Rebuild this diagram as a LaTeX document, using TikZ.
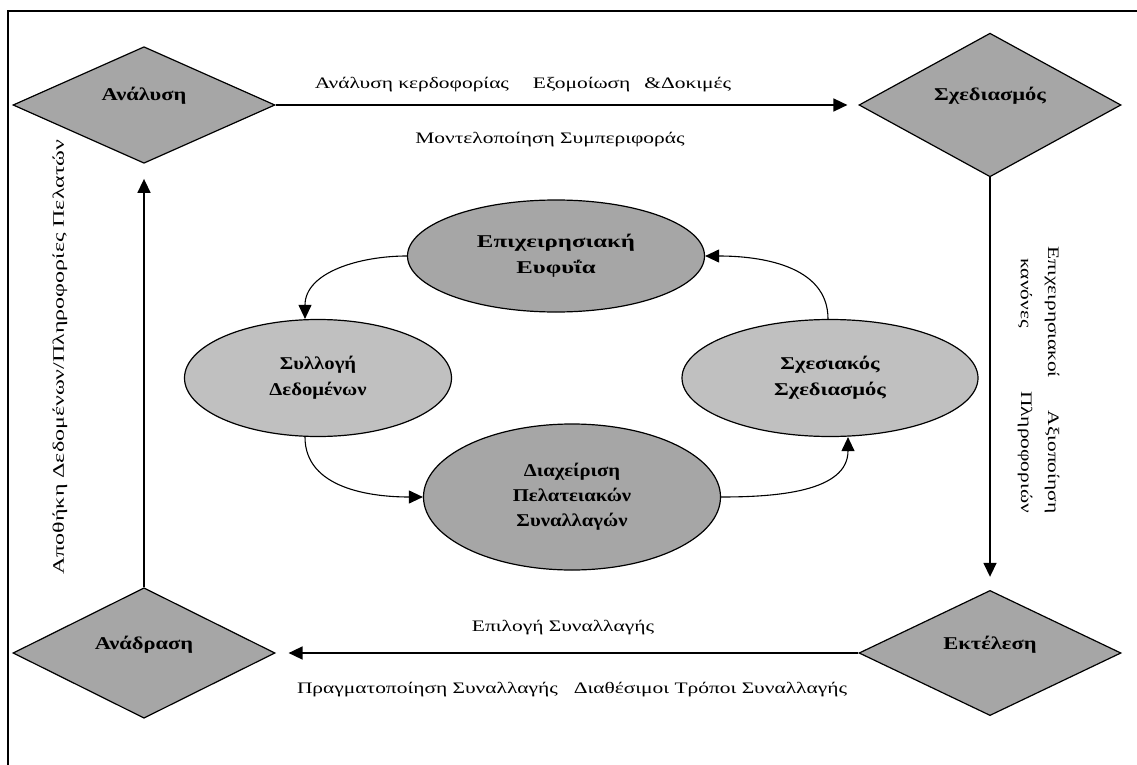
\documentclass[tikz,border=0pt]{standalone}
\usepackage{fontspec}
\setmainfont{Liberation Serif}
\newfontfamily\labfont[FakeStretch=1.34]{Liberation Serif}
\newfontfamily\vertfont[FakeStretch=1.5]{Liberation Serif}
\newfontfamily\bxa[FakeStretch=1.38]{Liberation Serif}
\newfontfamily\bxb[FakeStretch=1.15]{Liberation Serif}
\newfontfamily\bxc[FakeStretch=1.25]{Liberation Serif}
\usetikzlibrary{shapes.geometric,arrows.meta}
\definecolor{darkfill}{RGB}{166,166,166}
\definecolor{lightfill}{RGB}{192,192,192}
\begin{document}
\begin{tikzpicture}[x=1pt,y=-1pt,
  every node/.style={font=\labfont\fontsize{16}{19}\selectfont},
  dia/.style={diamond,draw,line width=1.2pt,fill=darkfill,inner sep=0pt,
    minimum width=262pt,minimum height=116pt,
    font=\bxc\fontsize{18}{21}\selectfont\bfseries,text height=12pt,text depth=20pt},
  ell/.style={ellipse,draw,line width=1.2pt,inner sep=0pt,align=center},
  ellA/.style={ell,font=\bxa\fontsize{18}{26}\selectfont\bfseries},
  ellB/.style={ell,font=\bxb\fontsize{18}{26}\selectfont\bfseries},
  ellC/.style={ell,font=\bxc\fontsize{18}{26}\selectfont\bfseries},
  ellD/.style={ell,font=\bxb\fontsize{18}{25}\selectfont\bfseries},
  bigarrow/.style={line width=1.6pt,-{Triangle[length=14pt,width=13pt]}},
  curvearrow/.style={line width=1.1pt,-{Triangle[length=14pt,width=13pt]}},
  lab/.style={inner sep=0pt},
  vlab/.style={inner sep=0pt,font=\vertfont\fontsize{16}{19}\selectfont}]
\useasboundingbox (0,0) rectangle (1137,765);
\fill[white] (0,0) rectangle (1137,765);
\draw[line width=1.5pt] (8,765) -- (8,11) -- (1137,11);

\node[dia] (A) at (144,105) {Ανάλυση};
\node[dia] (S) at (990,105) {Σχεδιασμός};
\node[dia] (E) at (990,653) {Εκτέλεση};
\node[dia] (F) at (144,653) {Ανάδραση};

\node[ellA,fill=darkfill,minimum width=297pt,minimum height=112pt] (BI) at (556,256) {Επιχειρησιακή\\Ευφυΐα};
\node[ellB,fill=lightfill,minimum width=267pt,minimum height=117pt] (DC) at (318,378) {Συλλογή\\Δεδομένων};
\node[ellC,fill=lightfill,minimum width=296pt,minimum height=117pt] (RD) at (830,378) {Σχεσιακός\\Σχεδιασμός};
\node[ellD,fill=darkfill,minimum width=297pt,minimum height=146pt] (TM) at (572,497) {Διαχείριση\\Πελατειακών\\Συναλλαγών};

\draw[bigarrow,shorten >=11pt] (A.east) -- (S.west);
\draw[bigarrow,shorten >=13pt] (S.south) -- (E.north);
\draw[bigarrow,shorten >=13pt] (E.west) -- (F.east);
\draw[bigarrow,shorten >=15pt] (F.north) -- (A.south);

\draw[curvearrow] (BI.west) to[out=180,in=90] ([xshift=-13pt]DC.north);
\draw[curvearrow] ([xshift=-13pt]DC.south) to[out=-90,in=180] (TM.west);
\draw[curvearrow] (TM.east) to[out=0,in=-90] ([xshift=18pt]RD.south);
\draw[curvearrow] ([xshift=-2pt]RD.north) to[out=90,in=0] (BI.east);

\node[lab] (l1) at (523,85) {Ανάλυση κερδοφορίας\hspace{24pt}Εξομοίωση\hspace{14pt}\&Δοκιμές};
\node[lab] (l2) at (550,140) {Μοντελοποίηση Συμπεριφοράς};
\node[lab] (l3) at (563,628) {Επιλογή Συναλλαγής};
\node[lab] (l4) at (572,690) {Πραγματοποίηση Συναλλαγής\quad Διαθέσιμοι Τρόποι Συναλλαγής};
\node[vlab,rotate=90] (l5) at (60,357) {Αποθήκη Δεδομένων/Πληροφορίες Πελατών};
\node[lab,rotate=-90] (l6a) at (1052,312) {Επιχειρησιακοί};
\node[lab,rotate=-90] (l6b) at (1025,293) {κανόνες};
\node[lab,rotate=-90] (l7a) at (1052,462) {Αξιοποίηση};
\node[lab,rotate=-90] (l7b) at (1025,452) {Πληροφοριών};
\end{tikzpicture}
\end{document}
